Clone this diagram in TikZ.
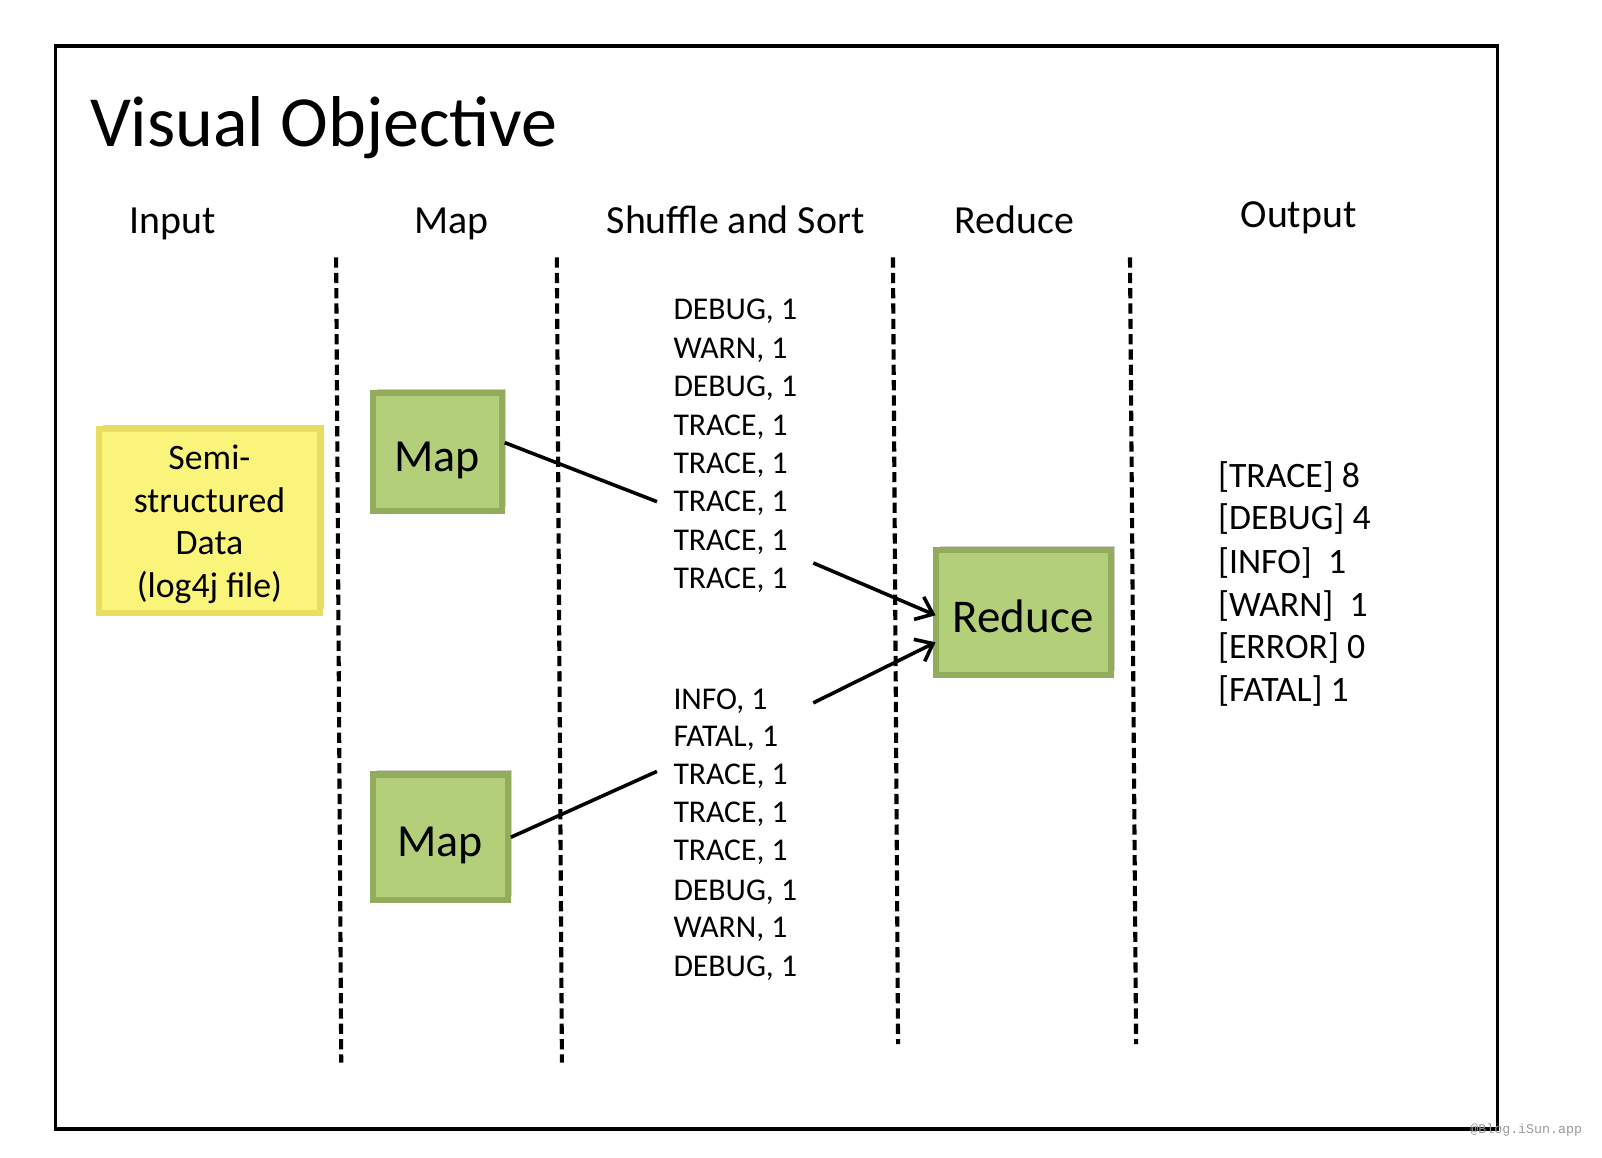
\documentclass[tikz,border=0pt]{standalone}
\usepackage{fontspec}
\setmainfont{Carlito}
\newfontfamily\wmfont{Liberation Mono}
\usetikzlibrary{arrows.meta,shadows}
\definecolor{boxgreen}{RGB}{180,207,122}
\definecolor{boxgreenedge}{RGB}{146,172,92}
\definecolor{boxyellow}{RGB}{250,244,122}
\definecolor{boxyellowedge}{RGB}{232,222,98}
\tikzset{
  sepline/.style={line width=4pt, dash pattern=on 10pt off 5pt},
  framebox/.style={line width=3pt},
  shadowed/.style={drop shadow={shadow xshift=4pt, shadow yshift=4pt, opacity=0.3, fill=black!60}},
  greenbox/.style={draw=boxgreenedge, fill=boxgreen, line width=6pt, inner sep=0pt, shadowed},
  yellowbox/.style={draw=boxyellowedge, fill=boxyellow, line width=6pt, inner sep=0pt, shadowed, align=center, font=\fontsize{35}{41.7}\selectfont},
  titletext/.style={anchor=base west, inner sep=0pt, font=\fontsize{70.5}{80}\selectfont},
  headtext/.style={anchor=base, inner sep=0pt, font=\fontsize{39}{44}\selectfont},
  pairtext/.style={anchor=base west, inner sep=0pt, font=\fontsize{31}{36}\selectfont},
  outtext/.style={anchor=base west, inner sep=0pt, font=\fontsize{35}{42}\selectfont},
  conn/.style={line width=3.5pt},
  arr/.style={line width=3.5pt, shorten >=-3pt, -{Straight Barb[length=15pt,width=24pt]}},
}
\begin{document}
\begin{tikzpicture}[x=1pt,y=-1pt]
\useasboundingbox (0,0) rectangle (1568,1133.4);
\fill[white] (0,0) rectangle (1568,1133.4);
% frame
\draw[framebox] (54,45) rectangle (1466,1105);
% title
\node[titletext] (title) at (88,143) {Visual Objective};
% headers
\node[headtext] (hinput) at (169,229) {Input};
\node[headtext] (hmap) at (442,229) {Map};
\node[headtext] (hshuffle) at (720,229) {Shuffle and Sort};
\node[headtext] (hreduce) at (993,229) {Reduce};
\node[headtext] (houtput) at (1271,223) {Output};
% separators
\coordinate (d1a) at (329,252); \coordinate (d1b) at (334,1040);
\coordinate (d2a) at (545,252); \coordinate (d2b) at (550,1040);
\coordinate (d3a) at (874,252); \coordinate (d3b) at (879,1022);
\coordinate (d4a) at (1106,252); \coordinate (d4b) at (1112,1022);
\draw[sepline] (d1a) -- (d1b);
\draw[sepline] (d2a) -- (d2b);
\draw[sepline] (d3a) -- (d3b);
\draw[sepline] (d4a) -- (d4b);
% boxes
\node[yellowbox, minimum width=216pt, minimum height=180pt, text depth=0pt] (input) at (205,510) {Semi-\\structured\\Data\\(log4j file)};
\node[greenbox, minimum width=126pt, minimum height=115pt, font=\fontsize{45}{50}\selectfont, text height=38pt, text depth=0pt] (map1) at (428,442.5) {Map};
\node[greenbox, minimum width=132pt, minimum height=123pt, font=\fontsize{45}{50}\selectfont, text height=38pt, text depth=0pt] (map2) at (431,819.5) {Map};
\node[greenbox, minimum width=171pt, minimum height=123pt, font=\fontsize{46}{50}\selectfont, text height=38.6pt, text depth=0pt] (reduce) at (1001.5,599.5) {Reduce};
% first list
\node[pairtext] (s1) at (659,313) {DEBUG, 1};
\node[pairtext] (s2) at (659,350.6) {WARN, 1};
\node[pairtext] (s3) at (659,388.2) {DEBUG, 1};
\node[pairtext] (s4) at (659,425.8) {TRACE, 1};
\node[pairtext] (s5) at (659,463.4) {TRACE, 1};
\node[pairtext] (s6) at (659,501) {TRACE, 1};
\node[pairtext] (s7) at (659,538.6) {TRACE, 1};
\node[pairtext] (s8) at (659,576.2) {TRACE, 1};
% second list
\node[pairtext] (t1) at (659,694) {INFO, 1};
\node[pairtext] (t2) at (659,731) {FATAL, 1};
\node[pairtext] (t3) at (659,768) {TRACE, 1};
\node[pairtext] (t4) at (659,805) {TRACE, 1};
\node[pairtext] (t5) at (659,842) {TRACE, 1};
\node[pairtext] (t6) at (659,881) {DEBUG, 1};
\node[pairtext] (t7) at (659,918) {WARN, 1};
\node[pairtext] (t8) at (659,956) {DEBUG, 1};
% output
\node[outtext] (o1) at (1192,477) {[TRACE] 8};
\node[outtext] (o2) at (1192,518) {[DEBUG] 4};
\node[outtext] (o3) at (1192,561) {[INFO]\ \ 1};
\node[outtext] (o4) at (1192,603) {[WARN]\ \ 1};
\node[outtext] (o5) at (1192,645) {[ERROR] 0};
\node[outtext] (o6) at (1192,687) {[FATAL] 1};
% connectors
\coordinate (m1end) at (643,491);
\coordinate (r1start) at (796,551);
\coordinate (r2start) at (796,688);
\coordinate (m2end) at (643,755);
\draw[conn] (map1.8) -- (m1end);
\draw[arr] (r1start) -- (reduce.181);
\draw[arr] (r2start) -- (reduce.199);
\draw[conn] (map2.east) -- (m2end);
% watermark
\node[anchor=west, inner sep=0pt, text=black!40, font=\wmfont\fontsize{13}{15}\selectfont] (wm) at (1439,1106) {@Blog.iSun.app};
\end{tikzpicture}
\end{document}
